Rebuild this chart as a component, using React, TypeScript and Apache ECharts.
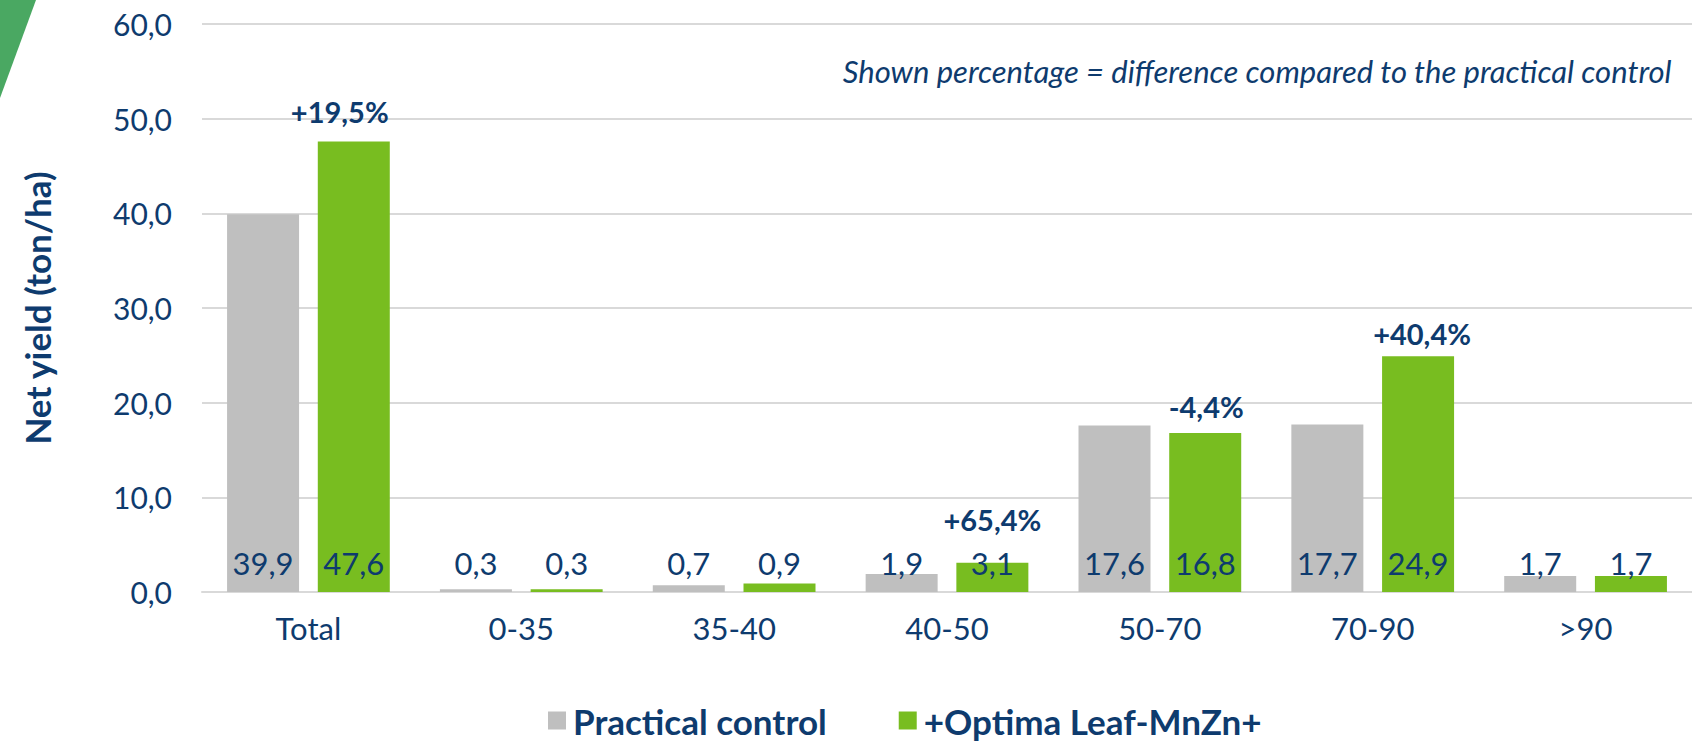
import React, { useEffect, useRef } from "react";
import * as echarts from "echarts";

const categories = ["Total", "0-35", "35-40", "40-50", "50-70", "70-90", ">90"];
const practicalControl = [39.9, 0.3, 0.7, 1.9, 17.6, 17.7, 1.7];
const optimaLeaf = [47.6, 0.3, 0.9, 3.1, 16.8, 24.9, 1.7];
const percentLabels = ["+19,5%", "", "", "+65,4%", "-4,4%", "+40,4%", ""];
const percentOffsets: [number, number][] = [[-14, -30], [0, 0], [0, 0], [0, -43], [1, -26], [4, -23], [0, 0]];
const yTicks = { min: 0, max: 60, interval: 10 };
const seriesNames = ["Practical control", "+Optima Leaf-MnZn+"];
const note = "Shown percentage = difference compared to the practical control";

const NAVY = "#0e3b6e";
const GRAY = "#bfbfbf";
const GREEN = "#78bd20";
const FONT = "Lato, 'Noto Sans', sans-serif";

const fmt = (v: number) => v.toFixed(1).replace(".", ",");

export default function App() {
  const ref = useRef<HTMLDivElement>(null);
  useEffect(() => {
    document.body.style.margin = "0";
    if (!ref.current) return;
    const chart = echarts.init(ref.current, undefined, { renderer: "svg" });
    const valueLabel = {
      show: true,
      position: "insideBottom",
      distance: 14,
      color: NAVY,
      fontFamily: FONT,
      fontSize: 31,
      formatter: (p: any) => fmt(p.value),
    };
    chart.setOption({
      animation: false,
      backgroundColor: "#ffffff",
      textStyle: { fontFamily: FONT },
      title: {
        text: note,
        right: 20,
        top: 55,
        padding: 0,
        textStyle: { color: NAVY, fontFamily: FONT, fontSize: 31, fontStyle: "italic", fontWeight: "normal" },
      },
      graphic: [
        {
          type: "polygon",
          shape: { points: [[0, 0], [36, 0], [0, 98]] },
          style: { fill: "#4aa862" },
          z: 100,
        },
      ],
      legend: {
        left: 543,
        top: 698,
        itemWidth: 18,
        itemHeight: 18,
        itemGap: 72,
        icon: "rect",
        textStyle: { color: NAVY, fontFamily: FONT, fontSize: 35, fontWeight: "bold", padding: [0, 0, 0, 2] },
        data: seriesNames,
      },
      grid: { left: 202, top: 24, width: 1508, height: 568 },
      xAxis: {
        type: "category",
        data: categories,
        axisLine: { show: true, lineStyle: { color: "#d9d9d9", width: 2 } },
        axisTick: { show: false },
        axisLabel: { color: NAVY, fontFamily: FONT, fontSize: 31, margin: 20 },
      },
      yAxis: {
        type: "value",
        min: yTicks.min,
        max: yTicks.max,
        interval: yTicks.interval,
        name: "Net yield (ton/ha)",
        nameLocation: "middle",
        nameGap: 148,
        nameTextStyle: { color: NAVY, fontFamily: FONT, fontSize: 35, fontWeight: "bold" },
        axisLine: { show: false },
        axisTick: { show: false },
        splitLine: { lineStyle: { color: "#d9d9d9", width: 2 } },
        axisLabel: { color: NAVY, fontFamily: FONT, fontSize: 30, margin: 30, formatter: (v: number) => fmt(v) },
      },
      series: [
        {
          name: seriesNames[0],
          type: "bar",
          data: practicalControl,
          barWidth: 72,
          barGap: "26%",
          itemStyle: { color: GRAY },
          label: valueLabel,
        },
        {
          name: seriesNames[1],
          type: "bar",
          data: optimaLeaf,
          barWidth: 72,
          barGap: "26%",
          itemStyle: { color: GREEN },
          label: valueLabel,
          markPoint: {
            symbol: "circle",
            symbolSize: 1,
            itemStyle: { color: "rgba(0,0,0,0)" },
            label: {
              show: true,
              position: "inside",
              color: NAVY,
              fontFamily: FONT,
              fontSize: 29,
              fontWeight: "bold",
              formatter: (p: any) => p.name,
            },
            data: percentLabels
              .map((t, i) => ({ t, i }))
              .filter((d) => d.t !== "")
              .map((d) => ({
                name: d.t,
                coord: [categories[d.i], optimaLeaf[d.i]],
                label: { offset: percentOffsets[d.i] },
              })),
          },
        },
      ],
    });
    return () => chart.dispose();
  }, []);
  return <div ref={ref} style={{ position: "absolute", left: 0, top: 0, width: 1692, height: 742 }} />;
}
